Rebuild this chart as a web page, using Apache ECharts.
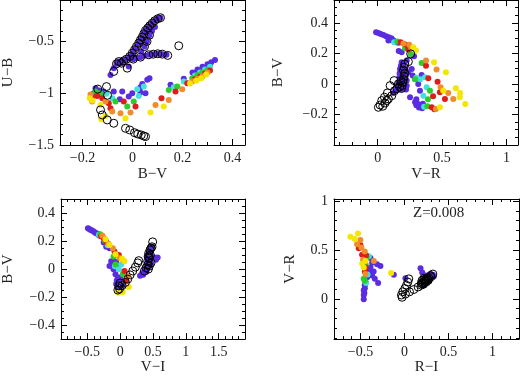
<!DOCTYPE html>
<html>
<head>
<meta charset="utf-8">
<script src="https://cdn.jsdelivr.net/npm/echarts@6/dist/echarts.min.js"></script>
<style>
html, body { margin: 0; padding: 0; background: #fff; }
#chart { width: 520px; height: 376px; }
</style>
</head>
<body>
<div id="chart"></div>
<script>
// ---- panel 1 : B-V vs U-B ----
var p1XTicks = [-0.2, 0, 0.2, 0.4];
var p1YTicks = [-1.5, -1, -0.5];
var p1Purple = [[-0.088,-0.823],[-0.075,-0.758],[-0.064,-0.716],[-0.055,-0.694],[-0.044,-0.71],[-0.035,-0.687],[-0.024,-0.671],[-0.015,-0.742],[-0.011,-0.645],[-0.001,-0.613],[0.008,-0.581],[0.016,-0.548],[0.025,-0.516],[0.032,-0.484],[0.039,-0.458],[0.045,-0.426],[0.052,-0.394],[0.061,-0.371],[0.069,-0.348],[0.079,-0.323],[0.089,-0.3],[0.101,-0.281],[0.112,-0.271],
  [0.035,-0.6],[0.048,-0.55],[0.058,-0.5],[0.068,-0.44],[0.078,-0.4],[0.09,-0.36],
  [0.003,-0.671],[0.016,-0.661],[0.032,-0.652],[0.048,-0.639],[0.065,-0.629],[0.083,-0.623],[0.101,-0.619],[0.119,-0.623],[0.136,-0.629],
  [-0.148,-0.952],[-0.135,-0.974],[-0.155,-1.0],[-0.115,-0.984],[-0.075,-0.984],[-0.041,-0.984],[-0.051,-1.058],[-0.015,-1.032],[-0.001,-1.0],[0.032,-0.994],[0.032,-0.942],[0.039,-0.91],[0.059,-0.871],[0.068,-0.855],[0.052,-1.0],[0.152,-0.919],[0.205,-0.861],[0.252,-0.806],
  [0.24,-0.8],[0.26,-0.77],[0.28,-0.745],[0.3,-0.72],[0.315,-0.7],[0.33,-0.68],[0.27,-0.79],[0.29,-0.76],[0.31,-0.73]];
var p1Cyan = [[-0.104,-1.006],[-0.081,-1.048],[0.025,-1.026],[0.019,-0.961],[0.045,-0.935],[0.165,-0.942],[0.205,-0.887],[0.25,-0.83],[0.27,-0.8],[0.29,-0.77],[0.31,-0.745]];
var p1Green = [[-0.148,-0.984],[-0.128,-1.0],[-0.068,-1.081],[-0.021,-1.129],[0.005,-1.081],[0.145,-0.968],[0.179,-0.935],[0.239,-0.855],[0.26,-0.825],[0.28,-0.8],[0.3,-0.775]];
var p1Red = [[-0.161,-1.045],[-0.141,-1.026],[-0.121,-1.048],[-0.095,-1.097],[-0.088,-1.145],[-0.035,-1.081],[0.012,-1.129],[0.116,-1.048],[0.172,-0.984],[0.219,-0.903],[0.25,-0.865],[0.27,-0.84],[0.29,-0.81],[0.31,-0.78]];
var p1Orange = [[-0.168,-1.013],[-0.161,-1.081],[-0.108,-1.081],[-0.081,-1.177],[-0.048,-1.194],[-0.008,-1.187],[0.092,-1.113],[0.145,-1.065],[0.199,-0.961],[0.24,-0.885],[0.26,-0.86],[0.28,-0.835],[0.3,-0.8]];
var p1Yellow = [[-0.171,-1.048],[-0.16,-1.07],[-0.128,-1.113],[-0.108,-1.219],[-0.125,-1.252],[-0.028,-1.242],[0.072,-1.187],[0.125,-1.129],[0.23,-0.905],[0.255,-0.88],[0.275,-0.855],[0.295,-0.82]];
var p1Open = [[-0.075,-0.79],[-0.021,-0.758],[-0.064,-0.716],[-0.055,-0.694],[-0.044,-0.71],[-0.035,-0.687],[-0.024,-0.671],[-0.011,-0.645],[-0.001,-0.613],[0.008,-0.581],[0.016,-0.548],[0.025,-0.516],[0.032,-0.484],[0.039,-0.458],[0.045,-0.426],[0.052,-0.394],[0.061,-0.371],[0.069,-0.348],[0.079,-0.323],[0.089,-0.3],[0.101,-0.281],[0.112,-0.271],[0.048,-0.55],[0.058,-0.5],[0.068,-0.44],
  [0.003,-0.671],[0.032,-0.652],[0.065,-0.629],[0.083,-0.623],[0.101,-0.619],[0.119,-0.623],[0.141,-0.635],[0.185,-0.542],
  [-0.139,-0.96],[-0.104,-0.936],[-0.1,-1.02],[-0.128,-1.161],[-0.121,-1.21],[-0.101,-1.258],[-0.075,-1.29],[-0.028,-1.339],[-0.011,-1.355],[0.008,-1.381],[0.021,-1.394],[0.035,-1.403],[0.045,-1.413],[0.052,-1.419]];

// ---- panel 2 : V-R vs B-V ----
var p2XTicks = [0, 0.5, 1];
var p2YTicks = [-0.2, 0, 0.2, 0.4];
var p2Purple = [[-0.013,0.339],[0.005,0.334],[0.023,0.328],[0.044,0.321],[0.065,0.313],[0.085,0.306],[0.106,0.299],[0.121,0.286],[0.142,0.273],[0.083,0.284],[0.1,0.29],[0.16,0.27],[0.163,0.216],[0.186,0.208],
  [0.186,0.142],[0.199,0.12],[0.173,0.098],[0.204,0.087],[0.186,0.066],[0.212,0.055],[0.168,0.044],[0.199,0.033],[0.225,0.022],[0.16,0.011],[0.194,0.0],[0.225,-0.011],[0.152,-0.022],[0.186,-0.033],[0.22,-0.037],[0.142,-0.044],[0.121,-0.059],[0.238,0.077],[0.225,0.153],[0.264,0.098],[0.271,0.055],[0.21,0.1],[0.18,0.12],[0.2,0.06],[0.17,0.07],[0.21,0.01],
  [0.282,0.181],[0.341,0.059],[0.289,0.033],[0.315,0.0],[0.328,-0.044],[0.251,-0.087],
  [0.29,-0.12],[0.3,-0.14],[0.31,-0.13],[0.32,-0.155],[0.335,-0.14],[0.345,-0.16],[0.35,-0.13],[0.3,-0.1]];
var p2Cyan = [[0.127,0.273],[0.3,0.04],[0.33,0.03],[0.367,0.044],[0.38,-0.022],[0.354,-0.077],[0.36,-0.15]];
var p2Green = [[0.152,0.278],[0.212,0.234],[0.256,0.197],[0.341,0.138],[0.29,0.03],[0.406,-0.044],[0.39,-0.1],[0.385,-0.146]];
var p2Red = [[0.178,0.273],[0.22,0.256],[0.238,0.225],[0.375,0.12],[0.393,0.037],[0.465,0.015],[0.483,-0.055],[0.522,-0.098],[0.43,-0.08],[0.419,-0.153],[0.44,-0.165]];
var p2Orange = [[0.2,0.265],[0.245,0.256],[0.26,0.235],[0.375,0.153],[0.457,0.094],[0.488,-0.022],[0.548,-0.059],[0.587,-0.098],[0.452,-0.164]];
var p2Yellow = [[0.276,0.24],[0.297,0.219],[0.437,0.142],[0.53,0.077],[0.509,-0.044],[0.607,-0.028],[0.64,-0.06],[0.638,-0.087],[0.68,-0.131],[0.483,-0.153]];
var p2Open = [[0.256,0.197],[0.238,0.146],[0.127,0.022],[0.096,-0.011],[0.109,-0.077],[0.075,-0.059],[0.083,-0.098],[0.052,-0.087],[0.031,-0.109],[0.07,-0.109],[0.057,-0.125],[0.039,-0.146],[0.018,-0.138],[0.005,-0.153],
  [0.21,0.13],[0.205,0.11],[0.2,0.09],[0.21,0.07],[0.205,0.05],[0.2,0.03],[0.195,0.01],[0.19,-0.01],[0.185,-0.03],[0.17,-0.02],[0.15,-0.03],[0.13,-0.045],[0.16,0.0],[0.18,0.02]];

// ---- panel 3 : V-I vs B-V ----
var p3XTicks = [-0.5, 0, 0.5, 1, 1.5];
var p3YTicks = [-0.4, -0.2, 0, 0.2, 0.4];
var p3Purple = [[-0.49,0.291],[-0.475,0.287],[-0.455,0.281],[-0.435,0.277],[-0.414,0.272],[-0.394,0.265],[-0.374,0.258],[-0.355,0.254],[-0.338,0.251],[-0.32,0.24],
  [-0.25,0.19],[-0.2,0.175],[-0.212,0.159],[-0.162,0.148],
  [-0.136,0.055],[-0.162,0.021],[-0.111,0.032],[-0.09,0.05],[-0.061,0.051],[-0.035,0.009],[-0.101,-0.002],[-0.071,-0.037],[-0.035,-0.06],[-0.05,-0.08],[0.0,-0.06],[-0.01,-0.095],[-0.061,-0.106],[-0.02,-0.141],[0.04,-0.118],
  [0.485,0.159],[0.46,0.1],[0.455,0.136],[0.434,0.113],[0.404,0.09],[0.444,0.078],[0.419,0.055],[0.47,0.044],[0.43,0.035],[0.444,0.021],[0.394,0.009],[0.4,-0.02],[0.369,-0.014],[0.35,-0.04],[0.333,-0.032],[0.303,-0.048],[0.52,0.083],[0.545,0.067],[0.571,0.083]];
var p3Cyan = [[-0.323,0.245],[-0.19,0.17],[-0.08,0.02],[-0.02,-0.002],[0.015,0.032]];
var p3Green = [[-0.303,0.249],[-0.23,0.2],[-0.1,0.09],[-0.071,0.032],[0.04,-0.037]];
var p3Red = [[-0.29,0.235],[-0.253,0.221],[-0.212,0.194],[-0.086,0.125],[-0.02,0.101],[0.066,-0.014],[0.091,-0.083]];
var p3Orange = [[-0.273,0.24],[-0.18,0.18],[-0.111,0.148],[-0.01,0.078],[0.05,0.06],[0.116,-0.048]];
var p3Yellow = [[-0.222,0.212],[-0.162,0.171],[-0.071,0.106],[0.03,0.074],[0.066,0.055],[0.131,-0.129],[0.04,-0.164],[-0.03,-0.17]];
var p3Open = [[-0.035,-0.15],[-0.02,-0.12],[-0.01,-0.141],[0.0,-0.1],[0.03,-0.118],[0.081,-0.095],[0.116,-0.072],[0.152,-0.042],[0.192,-0.014],[0.232,0.014],[0.268,0.044],[0.283,0.06],
  [0.495,0.194],[0.485,0.159],[0.47,0.15],[0.455,0.136],[0.434,0.113],[0.43,0.09],[0.444,0.078],[0.419,0.055],[0.47,0.044],[0.444,0.021],[0.43,0.0],[0.394,0.009],[0.369,-0.014],[0.46,0.1],[0.42,0.03]];

// ---- panel 4 : R-I vs V-R ----
var p4XTicks = [-0.5, 0, 0.5, 1];
var p4YTicks = [0, 0.5, 1];
var p4Purple = [[-0.386,0.419],[-0.367,0.37],[-0.311,0.353],[-0.273,0.337],[-0.386,0.32],[-0.4,0.3],[-0.35,0.28],[-0.398,0.271],[-0.367,0.238],[-0.337,0.205],[-0.299,0.162],[-0.424,0.221],[-0.44,0.17],[-0.451,0.139],[-0.45,0.11],[-0.462,0.089],[-0.455,0.06],[-0.462,0.04],[-0.462,-0.003],
  [-0.121,0.248],[0.011,0.211],
  [0.182,0.314],[0.201,0.271],[0.239,0.238],[0.25,0.2],[0.28,0.22],[0.295,0.254],[0.322,0.248],[0.333,0.228],[0.22,0.139]];
var p4Cyan = [[-0.405,0.436],[-0.42,0.25],[-0.436,0.162]];
var p4Green = [[-0.43,0.42],[-0.44,0.35],[-0.462,0.205],[-0.45,0.185]];
var p4Red = [[-0.5,0.55],[-0.519,0.518],[-0.481,0.452],[-0.436,0.446],[-0.443,0.32],[-0.45,0.28]];
var p4Orange = [[-0.5,0.601],[-0.538,0.558],[-0.489,0.525],[-0.451,0.485],[-0.47,0.4],[-0.348,0.386],[-0.443,0.254]];
var p4Yellow = [[-0.614,0.634],[-0.527,0.667],[-0.564,0.611],[-0.443,0.386],[-0.48,0.36],[-0.462,0.32],[-0.152,0.264]];
var p4Open = [[0.049,0.205],[0.038,0.172],[0.023,0.139],[0.004,0.106],[-0.019,0.073],[-0.034,0.04],[-0.027,0.017],
  [0.011,0.05],[0.057,0.073],[0.106,0.096],[0.155,0.122],[0.19,0.14],[0.201,0.155],[0.21,0.17],[0.231,0.182],[0.24,0.2],[0.22,0.21],[0.258,0.215],[0.27,0.19],[0.295,0.238],[0.322,0.254],
  [0.2,0.19],[0.215,0.15],[0.23,0.165],[0.25,0.175],[0.26,0.2],[0.28,0.21],[0.3,0.225],[0.245,0.185],[0.225,0.195],[0.19,0.16]];

var FONT = 'Liberation Serif';
var colors = { purple: '#5a2de0', cyan: '#44e0e0', green: '#2ccc2c', red: '#dd1c1c', orange: '#f08c2c', yellow: '#f4e600' };

function minus(v) { return String(v).replace('-', '\u2212'); }
function steps(min, max, step) {
  var out = [];
  for (var k = Math.ceil(min / step - 1e-9); k * step <= max + 1e-9; k++) out.push(Math.round(k * step * 1e6) / 1e6);
  return out;
}

var panels = [
  { grid: { left: 60, top: 0, width: 185, height: 145 },
    x: { min: -0.29, max: 0.45, major: p1XTicks, minor: 0.05, name: 'B\u2212V', gap: 22 },
    y: { min: -1.5, max: -0.1, major: p1YTicks, minor: 0.1, name: 'U\u2212B', gap: 44 },
    data: [p1Purple, p1Cyan, p1Green, p1Red, p1Orange, p1Yellow, p1Open] },
  { grid: { left: 334, top: 0, width: 184, height: 145 },
    x: { min: -0.34, max: 1.09, major: p2XTicks, minor: 0.1, name: 'V\u2212R', gap: 22 },
    y: { min: -0.4, max: 0.55, major: p2YTicks, minor: 0.05, name: 'B\u2212V', gap: 48 },
    data: [p2Purple, p2Cyan, p2Green, p2Red, p2Orange, p2Yellow, p2Open] },
  { grid: { left: 60, top: 199, width: 185, height: 144.5 },
    x: { min: -0.9, max: 1.9, major: p3XTicks, minor: 0.1, name: 'V\u2212I', gap: 20 },
    y: { min: -0.5, max: 0.5, major: p3YTicks, minor: 0.05, name: 'B\u2212V', gap: 45 },
    data: [p3Purple, p3Cyan, p3Green, p3Red, p3Orange, p3Yellow, p3Open] },
  { grid: { left: 334, top: 199, width: 185, height: 144.5 },
    x: { min: -0.8, max: 1.3, major: p4XTicks, minor: 0.1, name: 'R\u2212I', gap: 20 },
    y: { min: -0.41, max: 1.02, major: p4YTicks, minor: 0.1, name: 'V\u2212R', gap: 36 },
    data: [p4Purple, p4Cyan, p4Green, p4Red, p4Orange, p4Yellow, p4Open] }
];

function axesFor(isX, gi, a) {
  var sides = isX ? ['bottom', 'top'] : ['left', 'right'];
  var list = [];
  sides.forEach(function (side, i) {
    list.push({
      type: 'value', gridIndex: gi, position: side, min: a.min, max: a.max,
      splitLine: { show: false },
      axisLine: { show: true, onZero: false, lineStyle: { color: '#000', width: 1 } },
      axisTick: { show: true, inside: true, length: 6, customValues: a.major, lineStyle: { color: '#000' } },
      axisLabel: i === 0 ? { show: true, customValues: a.major, formatter: minus, margin: 6,
        fontFamily: FONT, fontSize: 14, color: '#222' } : { show: false },
      name: i === 0 ? a.name : '', nameLocation: 'middle', nameGap: a.gap,
      nameTextStyle: { fontFamily: FONT, fontSize: 15, color: '#222' }
    });
    list.push({
      type: 'value', gridIndex: gi, position: side, min: a.min, max: a.max,
      splitLine: { show: false },
      axisLine: { show: false, onZero: false },
      axisTick: { show: true, inside: true, length: 3, customValues: steps(a.min, a.max, a.minor), lineStyle: { color: '#000' } },
      axisLabel: { show: false }
    });
  });
  return list;
}

var grids = [], xAxes = [], yAxes = [], series = [];
var order = ['purple', 'cyan', 'green', 'red', 'orange', 'yellow'];
panels.forEach(function (p, gi) {
  grids.push(p.grid);
  xAxes = xAxes.concat(axesFor(true, gi, p.x));
  yAxes = yAxes.concat(axesFor(false, gi, p.y));
  order.forEach(function (c, k) {
    series.push({ type: 'scatter', xAxisIndex: gi * 4, yAxisIndex: gi * 4, data: p.data[k],
      symbolSize: 6, itemStyle: { color: colors[c], opacity: 1 } });
  });
  series.push({ type: 'scatter', xAxisIndex: gi * 4, yAxisIndex: gi * 4, data: p.data[6],
    symbolSize: 8, itemStyle: { color: 'rgba(0,0,0,0)', borderColor: '#000', borderWidth: 1, opacity: 1 } });
});

var chart = echarts.init(document.getElementById('chart'));
chart.setOption({
  animation: false,
  backgroundColor: '#fff',
  grid: grids,
  xAxis: xAxes,
  yAxis: yAxes,
  series: series,
  graphic: [{ type: 'text', left: 413, top: 206,
    style: { text: 'Z=0.008', fontFamily: FONT, fontSize: 15, fill: '#222' } }]
});
</script>
</body>
</html>
